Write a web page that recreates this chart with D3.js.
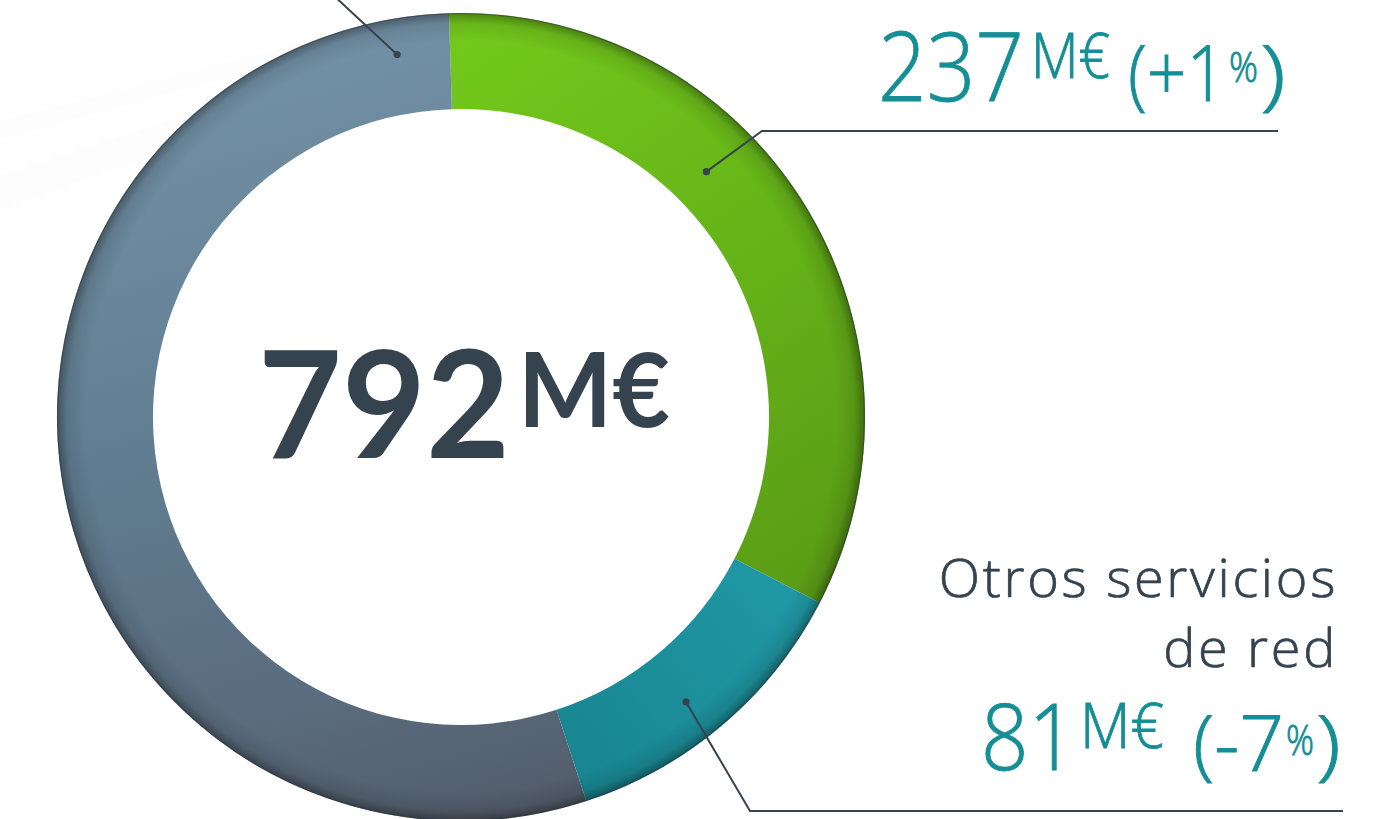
<!DOCTYPE html>
<html><head><meta charset="utf-8">
<script src="https://cdn.jsdelivr.net/npm/d3@7"></script>
<style>html,body{margin:0;padding:0;background:#fff;overflow:hidden}</style>
</head><body><svg id="c" width="1393" height="819"></svg>
<script>
// ---- data ----
const categories   = ["Verde", "Otros servicios de red", "Gris"];
const sliceValues  = [262, 98, 432];          // arc sizes as drawn (M€ scale, total 792)
const labelValues  = [237, 81];               // values printed in the labels
const labelChanges = ["+1", "-7"];            // % change printed in the labels
const totalLabel   = 792;
const unit = "M€";

// ---- layout ----
const cx = 461, cy = 417, R = 404, r = 308;
const deg = Math.PI / 180;
const start = -1.7 * deg;

const svg = d3.select("#c");
const defs = svg.append("defs");

function lin(id, x1, y1, x2, y2, stops) {
  const g = defs.append("linearGradient").attr("id", id).attr("gradientUnits", "userSpaceOnUse")
    .attr("x1", x1 - cx).attr("y1", y1 - cy).attr("x2", x2 - cx).attr("y2", y2 - cy);
  stops.forEach(s => g.append("stop").attr("offset", s[0]).attr("stop-color", s[1]));
}
lin("gGreen", 450, 13, 840, 600, [[0, "#74ca1c"], [0.5, "#65b418"], [1, "#5a9a16"]]);
lin("gTeal", 820, 600, 560, 800, [[0, "#2099a6"], [1, "#18848f"]]);
lin("gGrey", 300, 20, 520, 820, [[0, "#7492a7"], [0.45, "#617d91"], [0.8, "#5a6c7d"], [1, "#525c6a"]]);
const fills = ["url(#gGreen)", "url(#gTeal)", "url(#gGrey)"];

const rad = defs.append("radialGradient").attr("id", "rim").attr("gradientUnits", "userSpaceOnUse")
  .attr("cx", 0).attr("cy", 0).attr("r", R);
[[0.76, 0], [0.93, 0], [0.975, 0.1], [1, 0.36]].forEach(s =>
  rad.append("stop").attr("offset", s[0]).attr("stop-color", "#000").attr("stop-opacity", s[1]));

// faint background streaks
svg.append("path").attr("d", "M0,175 L470,20 L470,45 L0,210 Z").attr("fill", "#000").attr("opacity", 0.008);
svg.append("path").attr("d", "M0,120 L470,0 L470,12 L0,140 Z").attr("fill", "#000").attr("opacity", 0.007);

const pie = d3.pie().sort(null).value(d => d).startAngle(start).endAngle(start + 2 * Math.PI);
const arcs = pie(sliceValues);
const arc = d3.arc().innerRadius(r).outerRadius(R);

const g = svg.append("g").attr("transform", `translate(${cx},${cy})`);
g.selectAll("path.slice").data(arcs).join("path").attr("class", "slice")
  .attr("d", arc).attr("fill", (d, i) => fills[i]);
g.append("path").attr("d", arc({ startAngle: 0, endAngle: 2 * Math.PI })).attr("fill", "url(#rim)");
g.append("circle").attr("r", R - 0.5).attr("fill", "none").attr("stroke", "#2a3338")
  .attr("stroke-opacity", 0.45).attr("stroke-width", 1.2);

// ---- leaders ----
const lineCol = "#36444f";
function polar(aDeg, rr) { return [cx + rr * Math.sin(aDeg * deg), cy - rr * Math.cos(aDeg * deg)]; }
const leaders = [
  { a: -10, rr: 368, pts: [[317, -20]] },
  { a: 45, rr: 347, pts: [[762, 131], [1278, 131]] },
  { a: 141.7, rr: 363, pts: [[750, 811], [1343, 811]] }
];
leaders.forEach(l => {
  const p0 = polar(l.a, l.rr);
  svg.append("path").attr("d", d3.line()([p0, ...l.pts])).attr("fill", "none")
    .attr("stroke", lineCol).attr("stroke-width", 2);
  svg.append("circle").attr("cx", p0[0]).attr("cy", p0[1]).attr("r", 3.6).attr("fill", lineCol);
});

// ---- center ----
const cFont = "Lato, 'Open Sans', sans-serif";
const ct = svg.append("text").attr("font-family", cFont).attr("font-weight", 700).attr("fill", "#35434f");
ct.append("tspan").attr("x", 258).attr("y", 458).attr("font-size", 150)
  .attr("textLength", 252).attr("lengthAdjust", "spacingAndGlyphs").text(totalLabel);
ct.append("tspan").attr("x", 518).attr("y", 427).attr("font-size", 103)
  .attr("textLength", 152).attr("lengthAdjust", "spacingAndGlyphs").text(unit);

// ---- labels ----
const teal = "#158e96", dark = "#34434f";
const lFont = "'Open Sans', 'Noto Sans', sans-serif";
function label(col) {
  return svg.append("text").attr("font-family", lFont).attr("font-weight", 300)
    .attr("fill", col).attr("stroke", col).attr("stroke-width", 0.9);
}
function piece(t, x, y, size, txt, len) {
  const s = t.append("tspan").attr("x", x).attr("y", y).attr("font-size", size).text(txt);
  if (len) s.attr("textLength", len).attr("lengthAdjust", "spacingAndGlyphs");
  return s;
}
// green label
const t1 = label(teal);
piece(t1, 878, 101, 95, labelValues[0], 146);
piece(t1, 1031, 78, 62, unit, 79);
piece(t1, 1128, 101, 78, "(" + labelChanges[0], 98);
piece(t1, 1229, 82, 42, "%", 29);
piece(t1, 1260, 101, 78, ")", 26);

// teal label
label(dark).attr("text-anchor", "end").attr("letter-spacing", 2.7).attr("stroke-width", 0.7)
  .call(t => { piece(t, 1338, 597, 54, "Otros servicios"); piece(t, 1338, 667, 54, "de red"); });
const t2 = label(teal);
piece(t2, 981, 770, 93, labelValues[1], 95);
piece(t2, 1080, 748, 62, unit, 84);
piece(t2, 1193, 771, 78, "(" + labelChanges[1], 91);
piece(t2, 1286, 755, 42, "%", 28);
piece(t2, 1316, 771, 78, ")", 25);
</script></body></html>
